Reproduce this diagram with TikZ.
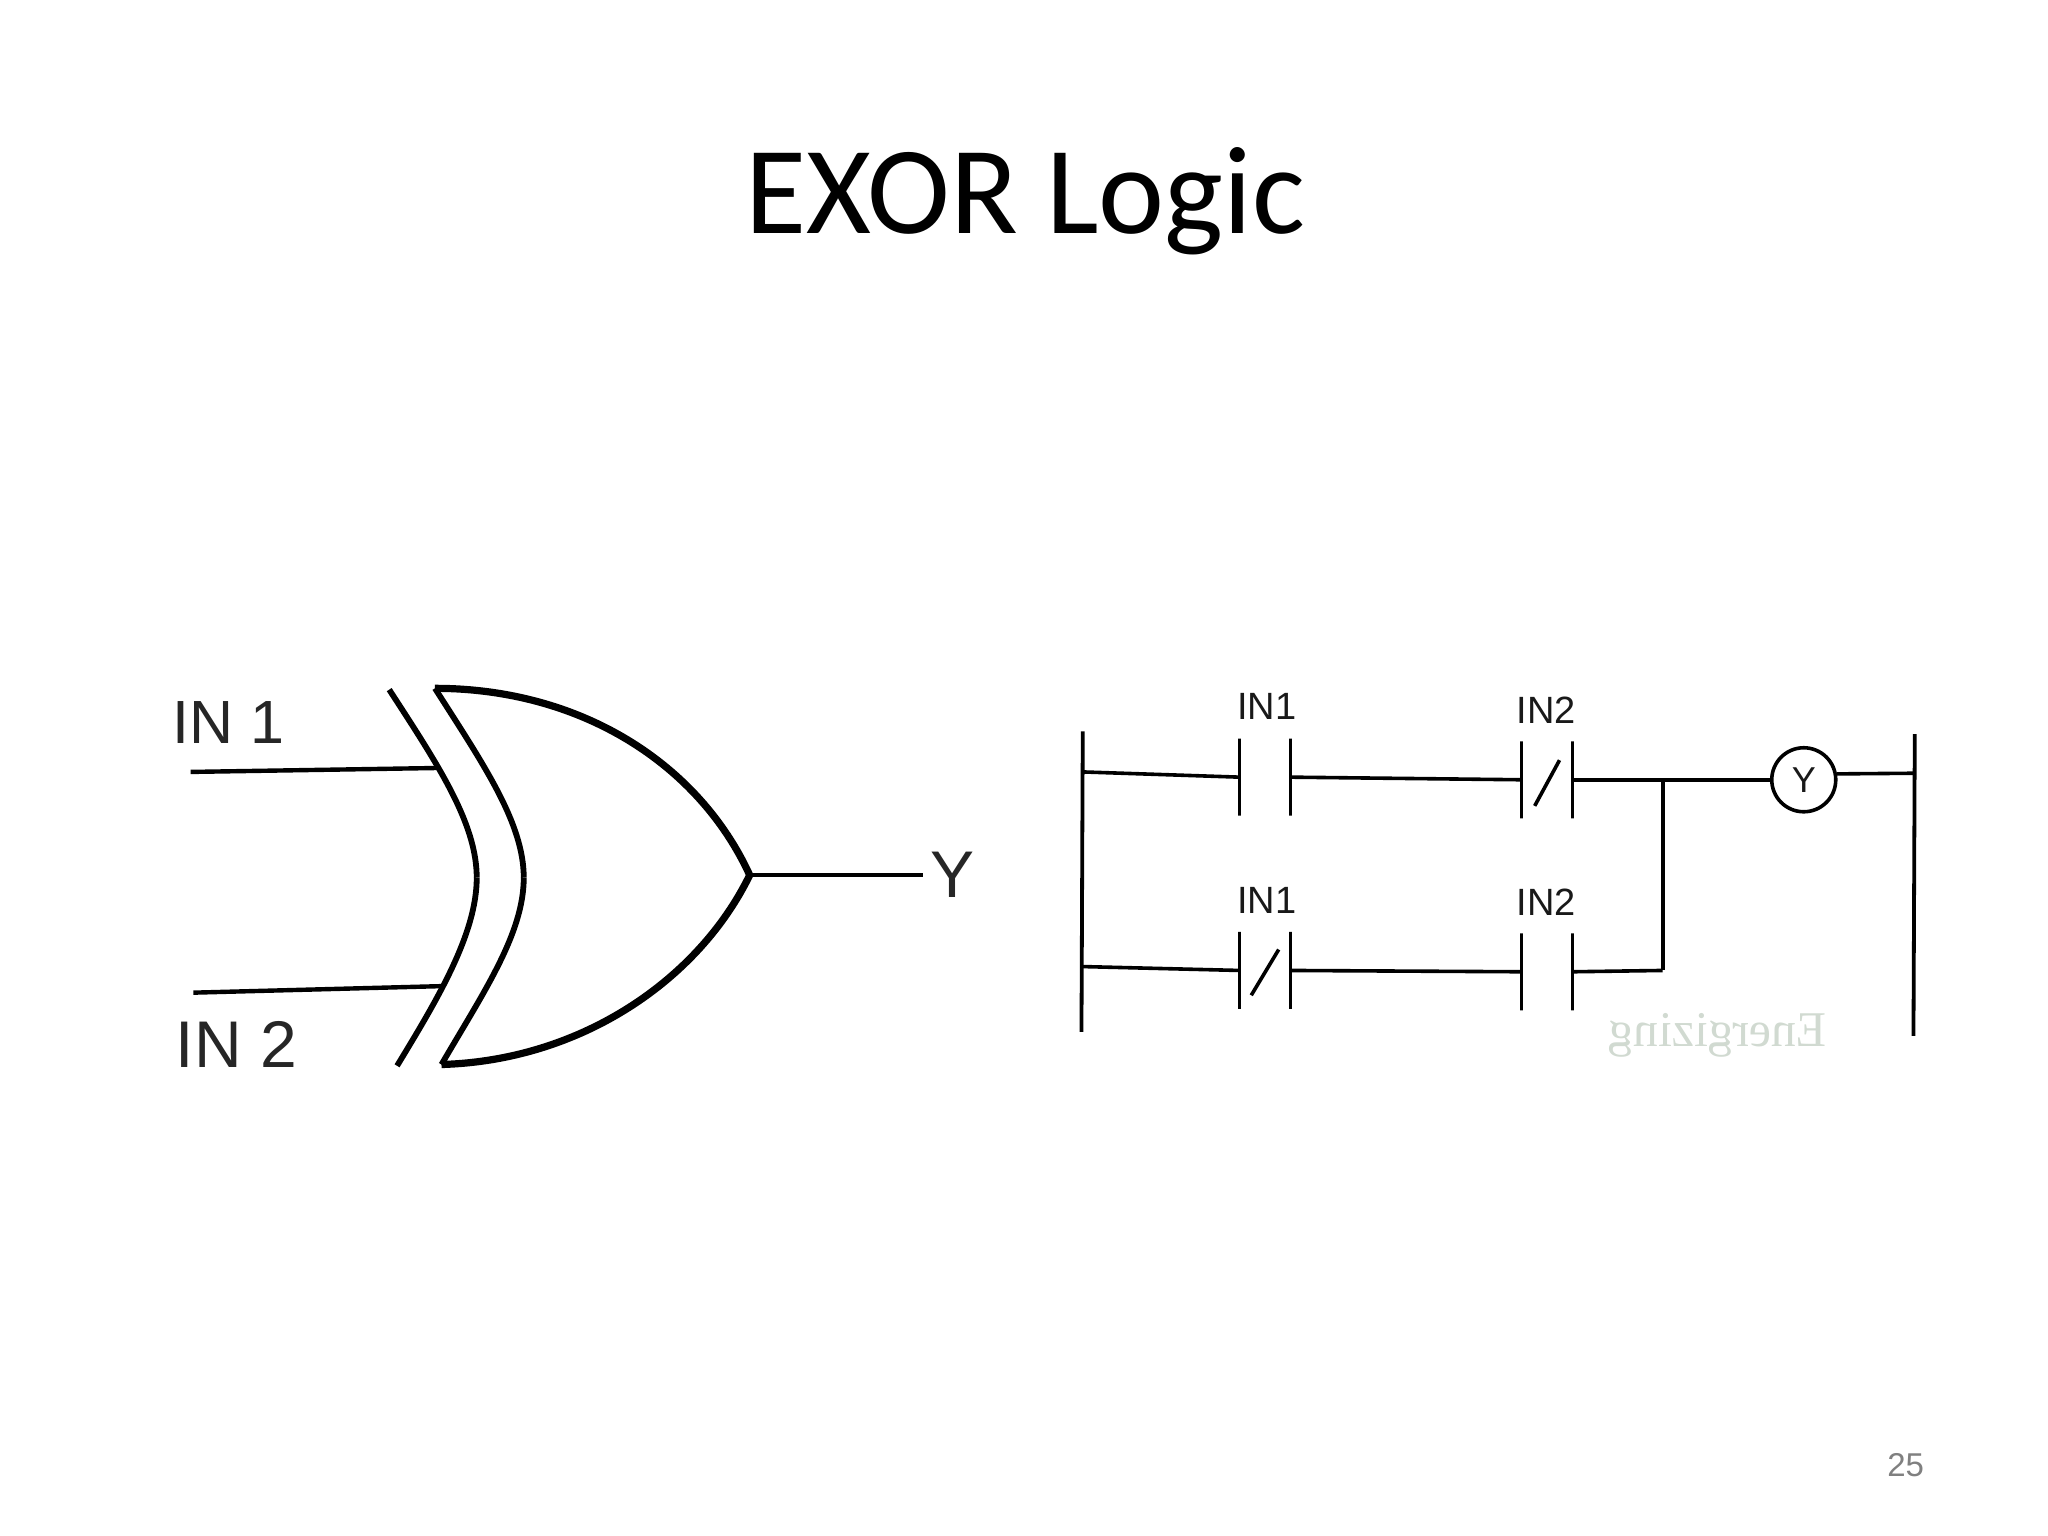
\documentclass[tikz,border=0pt]{standalone}
\usepackage{fontspec}
\setmainfont{Liberation Sans}
\newfontfamily\titlefont{Carlito}
\newfontfamily\ghostfont{Liberation Serif}
\begin{document}
\begin{tikzpicture}[x=0.653pt, y=-0.653pt, thick,
    gateline/.style = {line width=2.9pt},
    wire/.style = {line width=1.8pt},
    bigwire/.style = {line width=2.2pt},
    plate/.style = {draw, line width=1.7pt, minimum width=0pt, minimum height=38.5pt, inner sep=0pt, outer sep=0pt},
    rail/.style = {line width=1.9pt},
    small/.style = {font=\fontsize{19}{22}\selectfont, text=black!90},
    big/.style = {font=\fontsize{33}{38}\selectfont, text=black!85}]
    \useasboundingbox (0,0) rectangle (1568,1176);
    \node (title) at (785,154) {\titlefont\fontsize{62.5}{72}\selectfont EXOR Logic};
    \node[text=black!50, font=\fontsize{16.5}{20}\selectfont] (page) at (1459,1122) {25};
    % gate
    \coordinate (g1) at (333,527);
    \coordinate (g2) at (574,670);
    \coordinate (g3) at (338,815);
    \coordinate (g4) at (401,672);
    \coordinate (b1) at (298,528);
    \coordinate (b2) at (365,672);
    \coordinate (b3) at (304,816);
    \coordinate (w1) at (146,591);
    \coordinate (w2) at (334,588);
    \coordinate (w3) at (148,760);
    \coordinate (w4) at (338,755);
    \node[big, font=\fontsize{30.5}{36}\selectfont] (in1) at (175,553) {IN 1};
    \node[big] (in2) at (181,800) {IN 2};
    \node[big] (y) at (729,670) {Y};
    \draw[line width=3.6pt] (g2) .. controls (535,585) and (445,527) .. (g1);
    \draw[line width=3.6pt] (g2) .. controls (535,750) and (445,812) .. (g3);
    \draw[gateline] (g1) .. controls (370,585) and (401,630) .. (g4);
    \draw[gateline] (g4) .. controls (401,715) and (370,760) .. (g3);
    \draw[gateline] (b1) .. controls (335,585) and (365,630) .. (b2);
    \draw[gateline] (b2) .. controls (365,715) and (335,765) .. (b3);
    \draw[bigwire] (w1) -- (w2);
    \draw[bigwire] (w3) -- (w4);
    \draw[bigwire] (g2) -- (y.west);
    % ladder
    \coordinate (l1) at (829,560);
    \coordinate (l2) at (829,591);
    \coordinate (l3) at (828,740);
    \coordinate (l4) at (828,790);
    \coordinate (r1) at (1466,562);
    \coordinate (r2) at (1466,592);
    \coordinate (r3) at (1465,793);
    \coordinate (j1) at (1273,597);
    \coordinate (j2) at (1273,743);
    \node[plate] (a1) at (949,595) {};
    \node[plate] (a2) at (988,595) {};
    \node[plate] (b4) at (1165,597) {};
    \node[plate] (b5) at (1204,597) {};
    \node[plate] (c1) at (949,743) {};
    \node[plate] (c2) at (988,743) {};
    \node[plate] (d1) at (1165,744) {};
    \node[plate] (d2) at (1204,744) {};
    \node[draw, circle, line width=1.8pt, minimum size=32pt, inner sep=0pt, font=\fontsize{18}{20}\selectfont, text=black!90] (coil) at (1381,597) {Y};
    \node[small] (t1) at (970,541) {IN1};
    \node[small] (t2) at (1184,544) {IN2};
    \node[small] (t3) at (970,689) {IN1};
    \node[small] (t4) at (1184,691) {IN2};
    \node[xscale=-1, text=green!20!black!18, font=\ghostfont\fontsize{25}{28}\selectfont] (ghost) at (1315,793) {Energizing};
    \coordinate (s1) at (1175,617);
    \coordinate (s2) at (1194,582);
    \coordinate (s3) at (958,762);
    \coordinate (s4) at (979,727);
    \draw[rail] (l1) -- (l4);
    \draw[rail] (r1) -- (r3);
    \draw[wire] (l2) -- (a1);
    \draw[wire] (a2) -- (b4);
    \draw[wire] (b5) -- (j1);
    \draw[wire] (j1) -- (coil);
    \draw[wire] (coil.10) -- (r2);
    \draw[wire] (l3) -- (c1);
    \draw[wire] (c2) -- (d1);
    \draw[wire] (d2) -- (j2);
    \draw[wire] (j2) -- (j1);
    \draw[wire] (s1) -- (s2);
    \draw[wire] (s3) -- (s4);
\end{tikzpicture}
\end{document}
